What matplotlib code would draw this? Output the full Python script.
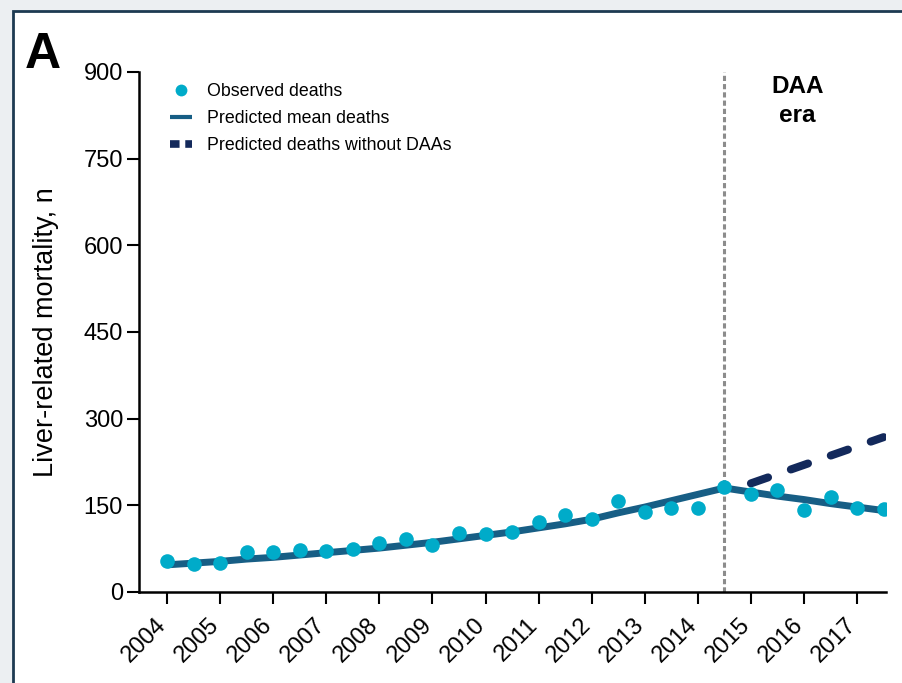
import matplotlib
matplotlib.use("Agg")
import matplotlib.pyplot as plt
import matplotlib.transforms as mtransforms
from matplotlib.lines import Line2D
from matplotlib.patches import Rectangle

plt.rcParams['font.family'] = ['Liberation Sans', 'DejaVu Sans']

# Half-year time points
years = [2004.0, 2004.5, 2005.0, 2005.5, 2006.0, 2006.5, 2007.0, 2007.5,
         2008.0, 2008.5, 2009.0, 2009.5, 2010.0, 2010.5, 2011.0, 2011.5,
         2012.0, 2012.5, 2013.0, 2013.5, 2014.0, 2014.5, 2015.0, 2015.5,
         2016.0, 2016.5, 2017.0, 2017.5]

observed = [54, 48, 51, 70, 69, 73, 71, 74,
            85, 91, 81, 102, 100, 104, 121, 133,
            127, 158, 138, 145, 145, 182, 170, 177,
            142, 165, 145, 143]

predicted_mean = [47, 50, 53, 57, 60, 64, 68, 72,
                  76, 81, 86, 92, 98, 104, 111, 118,
                  126, 137, 147, 158, 169, 180, 173, 166,
                  160, 153, 147, 141]

years_no_daa = [2015.0, 2015.5, 2016.0, 2016.5, 2017.0, 2017.5]
predicted_no_daa = [188, 204, 220, 236, 252, 268]

daa_start = 2014.5
tick_years = list(range(2004, 2018))
y_ticks = [0, 150, 300, 450, 600, 750, 900]

c_obs = '#00abc9'
c_mean = '#175e85'
c_nodaa = '#13295b'
c_vline = '#8c8c8c'

fig = plt.figure(figsize=(9.03, 6.83), dpi=100)
fig.patch.set_facecolor('#eceff2')
fig.patches.append(Rectangle((13 / 903, -0.05), 1.2, (683 - 11) / 683 + 0.05,
                             transform=fig.transFigure, facecolor='white',
                             edgecolor='#1d3a52', linewidth=2, zorder=-10))

ax = fig.add_axes([139 / 903, 91 / 683, 747 / 903, 520 / 683])
ax.set_facecolor('none')

ax.plot(years, predicted_mean, color=c_mean, lw=5, solid_capstyle='butt', zorder=2)
ax.plot(years_no_daa, predicted_no_daa, color=c_nodaa, lw=5.8,
        dashes=(2.25, 3.0), dash_capstyle='round', zorder=2)
ax.plot(years, observed, 'o', color=c_obs, ms=10.5, mew=0, zorder=3)
ax.plot([daa_start, daa_start], [0, 900], color=c_vline, lw=2.2,
        dashes=(1.7, 1.0), zorder=1, clip_on=False)

ax.text(2015.88, 863, 'DAA', ha='center', va='baseline', fontsize=17.5,
        fontweight='bold')
ax.text(2015.88, 813, 'era', ha='center', va='baseline', fontsize=17.5,
        fontweight='bold')

ax.set_xlim(2003.47, 2017.545)
ax.set_ylim(0, 900)
ax.set_yticks(y_ticks)
ax.set_xticks(tick_years)
ax.set_xticklabels([str(y) for y in tick_years], rotation=45, ha='right',
                   va='top', rotation_mode='anchor')
ax.tick_params(axis='both', labelsize=17, width=1.5, length=8.5, color='black')
ax.tick_params(axis='y', pad=3)
ax.tick_params(axis='x', pad=6)
shift = mtransforms.ScaledTranslation(-12 / 100, -2 / 100, fig.dpi_scale_trans)
for lbl in ax.get_xticklabels():
    lbl.set_transform(lbl.get_transform() + shift)
for s in ['top', 'right']:
    ax.spines[s].set_visible(False)
for s in ['left', 'bottom']:
    ax.spines[s].set_linewidth(1.8)
ax.set_ylabel('Liver-related mortality, n', fontsize=19.5, labelpad=18)

handles = [
    Line2D([], [], marker='o', ls='none', color=c_obs, ms=8.5, mew=0),
    Line2D([], [], color=c_mean, lw=3, solid_capstyle='butt'),
    Line2D([], [], color=c_nodaa, lw=5.5, dashes=(1.25, 0.75), dash_capstyle='butt'),
]
labels = ['Observed deaths', 'Predicted mean deaths', 'Predicted deaths without DAAs']
ax.legend(handles, labels, loc='upper left', bbox_to_anchor=(0.042, 0.979),
          frameon=False, fontsize=12.8, handlelength=1.2, handletextpad=0.85,
          labelspacing=0.56, borderaxespad=0, borderpad=0)

fig.text(25 / 903, (683 - 68) / 683, 'A', fontsize=36, fontweight='bold',
         ha='left', va='baseline')

fig.savefig('out.png', dpi=100, facecolor=fig.get_facecolor())
